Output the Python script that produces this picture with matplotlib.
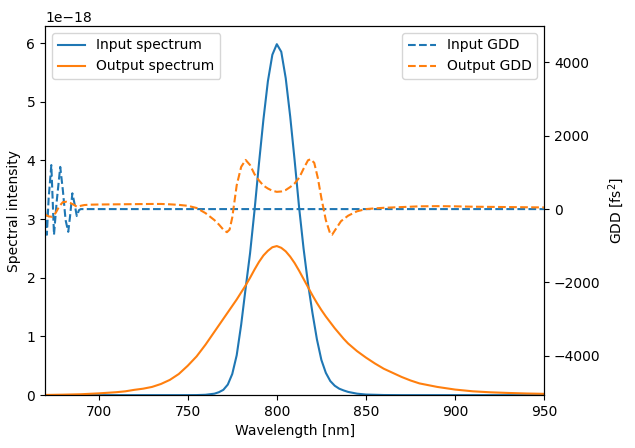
import numpy as np
import matplotlib
matplotlib.use("Agg")
import matplotlib.pyplot as plt

# input spectrum (x1e-18)
wl_in = [670, 740, 750, 755, 760, 765, 767.5, 770, 772.5, 775, 777.5, 780, 782.5,
         785, 787.5, 790, 792.5, 795, 797.5, 800, 802.5, 805, 807.5, 810, 812.5,
         815, 817.5, 820, 822.5, 825, 827.5, 830, 832.5, 835, 837.5, 840, 845,
         850, 860, 870, 950]
spec_in = [0, 0, 0.0, 0.001, 0.006, 0.025, 0.05, 0.09, 0.18, 0.36, 0.68, 1.2, 1.82,
           2.42, 3.15, 3.95, 4.7, 5.35, 5.8, 5.98, 5.85, 5.4, 4.75, 4.0, 3.2,
           2.5, 1.9, 1.4, 0.95, 0.6, 0.38, 0.24, 0.16, 0.11, 0.08, 0.055, 0.025,
           0.01, 0.002, 0, 0]

# output spectrum (x1e-18)
wl_out = [670, 680, 690, 700, 710, 715, 720, 725, 730, 735, 740, 742.5, 745,
          747.5, 750, 752.5, 755, 757.5, 760, 762.5, 765, 767.5, 770, 772.5,
          775, 777.5, 780, 782.5, 785, 787.5, 790, 792.5, 795, 797.5, 800,
          802.5, 805, 807.5, 810, 812.5, 815, 817.5, 820, 822.5, 825, 827.5,
          830, 832.5, 835, 837.5, 840, 845, 850, 855, 860, 865, 870, 875, 880,
          885, 890, 900, 910, 920, 930, 940, 950]
spec_out = [0.003, 0.008, 0.015, 0.03, 0.05, 0.065, 0.09, 0.11, 0.14, 0.19,
            0.26, 0.31, 0.36, 0.43, 0.5, 0.58, 0.66, 0.76, 0.86, 0.97, 1.08,
            1.19, 1.3, 1.41, 1.52, 1.63, 1.75, 1.87, 2.0, 2.14, 2.27, 2.38,
            2.46, 2.52, 2.54, 2.51, 2.45, 2.36, 2.25, 2.12, 1.98, 1.84, 1.7,
            1.57, 1.45, 1.34, 1.24, 1.14, 1.05, 0.96, 0.88, 0.75, 0.64, 0.54,
            0.45, 0.38, 0.31, 0.25, 0.2, 0.17, 0.14, 0.095, 0.065, 0.048,
            0.037, 0.028, 0.022]

# input GDD [fs^2]
wl_gdd_in = [670, 671, 672, 673.5, 675, 676.5, 678.5, 680, 681.5, 683, 684,
             685.3, 686.5, 687.8, 689, 690, 950]
gdd_in = [0, -700, 300, 1200, -700, 200, 1150, 500, -300, -620, -200,
          430, 150, -190, -30, 0, 0]

# output GDD [fs^2]
wl_gdd_out = [670, 672, 674, 676, 678, 680, 682, 684, 686, 688, 690, 692, 695,
              700, 710, 720, 730, 735, 740, 745, 750, 755, 760, 765, 767.5, 770,
              772, 773.5, 775, 777.5, 780, 782.5, 785, 787.5, 790, 792.5, 795,
              797.5, 800, 802.5, 805, 807.5, 810, 812.5, 815, 817.5, 819, 821,
              823, 825, 827.5, 830, 831, 833, 836, 840, 845, 850, 855, 860, 870,
              880, 890, 900, 910, 920, 930, 940, 950]
gdd_out = [-150, -200, -210, -100, 80, 190, 200, 170, 120, 60, 90, 110, 120,
           125, 130, 135, 140, 140, 130, 115, 90, 30, -110, -300, -420, -560,
           -630, -560, -230, 650, 1150, 1340, 1200, 950, 780, 640, 560,
           500, 470, 480, 520, 600, 700, 850, 1100, 1330, 1360, 1260,
           850, 300, -300, -680, -700, -550, -330, -180, -60, 0, 20, 35, 55,
           75, 80, 75, 65, 60, 55, 50, 45]

fig, ax = plt.subplots(figsize=(6.35, 4.48), dpi=100)
fig.subplots_adjust(left=0.071, right=0.857, top=0.942, bottom=0.118)

ax.plot(wl_in, np.array(spec_in) * 1e-18, color="C0", label="Input spectrum")
ax.plot(wl_out, np.array(spec_out) * 1e-18, color="C1", label="Output spectrum")
ax.set_xlim(670, 950)
ax.set_ylim(0, 6.29e-18)
ax.set_xlabel("Wavelength [nm]")
ax.set_ylabel("Spectral intensity")
ax.legend(loc="upper left")

ax2 = ax.twinx()
ax2.plot(wl_gdd_in, gdd_in, "--", color="C0", label="Input GDD")
ax2.plot(wl_gdd_out, gdd_out, "--", color="C1", label="Output GDD")
ax2.set_ylim(-5070, 4990)
ax2.set_ylabel("GDD [fs$^2$]")
ax2.legend(loc="upper right")

fig.savefig("out.png")
